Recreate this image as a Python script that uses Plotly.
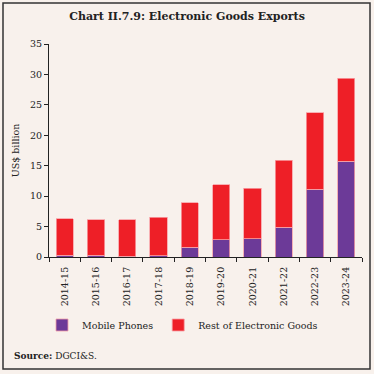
import plotly.graph_objects as go

years = ["2014-15", "2015-16", "2016-17", "2017-18", "2018-19",
         "2019-20", "2020-21", "2021-22", "2022-23", "2023-24"]
mobile_phones = [0.3, 0.3, 0.1, 0.2, 1.6, 2.8, 3.0, 4.9, 11.1, 15.7]
rest_electronic = [6.0, 5.8, 6.0, 6.3, 7.3, 9.1, 8.3, 11.0, 12.6, 13.7]
y_ticks = [0, 5, 10, 15, 20, 25, 30, 35]

BG = "#F8F1EC"
PURPLE = "#6C3A98"
RED = "#EE1F27"
FONT = "DejaVu Serif"

PW, PH = 313, 213  # plot area size in px

fig = go.Figure()
fig.add_trace(go.Bar(x=years, y=mobile_phones, name="Mobile Phones",
                     marker=dict(color=PURPLE, line=dict(color="#F2A0A8", width=0.8))))
fig.add_trace(go.Bar(x=years, y=rest_electronic, name="Rest of Electronic Goods",
                     marker=dict(color=RED, line=dict(color="#F7A0A5", width=0.8))))

fig.update_layout(
    width=374, height=374,
    barmode="stack", bargap=0.45,
    paper_bgcolor=BG, plot_bgcolor=BG,
    margin=dict(l=49, r=12, t=44, b=117, autoexpand=False),
    font=dict(family=FONT, size=9, color="#222222"),
    title=dict(text="<b>Chart II.7.9: Electronic Goods Exports</b>",
               x=0.5, xanchor="center", y=1 - 16 / 374, yanchor="middle",
               font=dict(family=FONT, size=11, color="#222222")),
    showlegend=True,
    legend=dict(orientation="h", x=(42 - 49) / PW, xanchor="left",
                y=-(325 - 257) / PH, yanchor="middle",
                bgcolor="rgba(0,0,0,0)", font=dict(family=FONT, size=9.5),
                itemwidth=30, traceorder="normal"),
    xaxis=dict(showline=True, linecolor="#222222", linewidth=1,
               ticks="outside", ticklen=4, tickcolor="#222222", tickson="boundaries",
               tickangle=-90, showgrid=False, ticklabelstandoff=5,
               tickfont=dict(size=9.5, family=FONT)),
    yaxis=dict(range=[0, 35], tickvals=y_ticks, showline=True, linecolor="#222222",
               linewidth=1, ticks="outside", ticklen=4, tickcolor="#222222",
               showgrid=False, zeroline=False,
               title=dict(text="US$ billion", font=dict(size=9.5, family=FONT), standoff=8),
               tickfont=dict(size=9.5, family=FONT)),
    annotations=[dict(text="<b>Source:</b> DGCI&S.", xref="paper", yref="paper",
                      x=(12 - 49) / PW, y=-(356 - 257) / PH, xanchor="left",
                      yanchor="middle", showarrow=False,
                      font=dict(family=FONT, size=9, color="#222222"))],
    shapes=[dict(type="rect", xref="paper", yref="paper",
                 x0=(3 - 49) / PW, x1=1 + (370 - 362) / PW,
                 y0=-(369 - 257) / PH, y1=1 + (44 - 3) / PH,
                 line=dict(color="#333333", width=1.5), fillcolor="rgba(0,0,0,0)")],
)

fig.write_html("out.html", config={"displayModeBar": False},
               post_script="document.body.style.margin='0';document.body.style.padding='0';")
